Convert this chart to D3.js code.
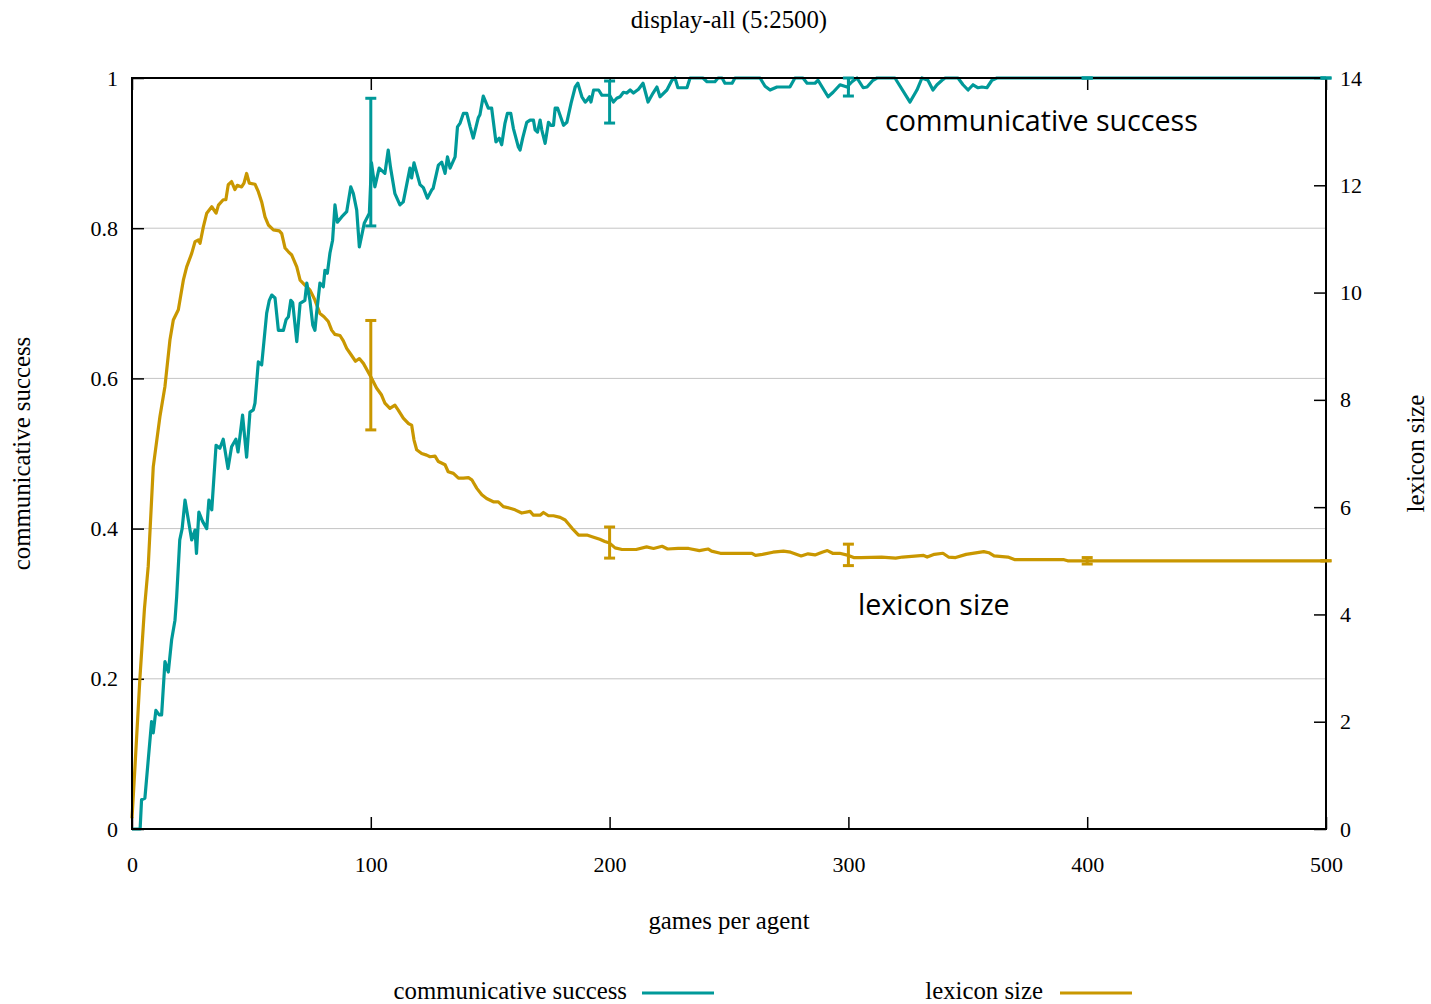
<!DOCTYPE html>
<html>
<head>
<meta charset="utf-8">
<script src="https://cdn.jsdelivr.net/npm/d3@7"></script>
<style>
  html, body { margin: 0; padding: 0; background: #fff; }
  svg { display: block; }
</style>
</head>
<body>
<svg id="chart" width="1431" height="1004"></svg>
<script>
// ---------------- data ----------------
const title = "display-all (5:2500)";
const xTicks = [0, 100, 200, 300, 400, 500];
const leftTicks = [0, 0.2, 0.4, 0.6, 0.8, 1];
const rightTicks = [0, 2, 4, 6, 8, 10, 12, 14];

// communicative success: [games per agent, value]
const csSeries = [
  [0,0],[3.4,0],[4,0.039],[5.4,0.041],[8.2,0.143],[8.9,0.128],[10,0.158],[11.4,0.152],[12.4,0.152],
  [13.8,0.223],[15.2,0.209],[16.6,0.252],[18,0.278],[18.7,0.309],[20,0.385],[21,0.40],[22.2,0.438],
  [25,0.385],[26.4,0.398],[27,0.367],[28,0.422],[29.5,0.41],[31.3,0.40],[32.2,0.438],[33.4,0.425],
  [35.2,0.511],[36.8,0.507],[38.2,0.519],[40.2,0.48],[41.7,0.509],[43.5,0.519],[44.4,0.502],[46.3,0.551],
  [48,0.495],[49.4,0.555],[50.8,0.558],[51.5,0.567],[52.9,0.622],[54.3,0.618],[56.4,0.687],[57.5,0.704],
  [58.5,0.711],[59.9,0.707],[61.3,0.664],[63.4,0.664],[64.5,0.678],[65.5,0.682],[66.5,0.704],[67.3,0.701],
  [69,0.649],[70.4,0.70],[72.4,0.704],[73.2,0.727],[74.5,0.704],[75.7,0.671],[76.6,0.664],[77.3,0.687],
  [78.7,0.727],[80.1,0.722],[80.8,0.744],[81.8,0.740],[82.9,0.767],[84,0.784],[85,0.831],[86,0.808],
  [87.8,0.815],[89.9,0.822],[91.6,0.855],[92.7,0.846],[94.1,0.824],[95.2,0.775],[97.3,0.807],[99.4,0.82],
  [100.3,0.887],[101.7,0.855],[103.5,0.88],[105.9,0.873],[107.3,0.904],[108.3,0.88],[110.1,0.846],
  [112.2,0.831],[113.6,0.835],[116.4,0.88],[117.1,0.867],[118.1,0.887],[120.6,0.858],[122,0.854],
  [123.7,0.840],[125.5,0.851],[126.1,0.853],[128.3,0.884],[129.7,0.888],[131.1,0.873],[132.1,0.895],
  [133.2,0.88],[135.3,0.895],[136.3,0.935],[137.4,0.94],[138.8,0.953],[140.2,0.953],[141.6,0.935],
  [142.9,0.92],[145,0.947],[145.7,0.951],[147.1,0.976],[149.2,0.96],[150.6,0.96],[152.4,0.915],
  [153.8,0.92],[154.8,0.911],[156.2,0.94],[157.2,0.953],[158.6,0.953],[159.7,0.933],[161.8,0.908],
  [162.5,0.904],[163.6,0.92],[165.3,0.941],[166.7,0.944],[168.1,0.944],[168.8,0.931],[169.8,0.928],
  [170.9,0.944],[171.6,0.931],[173,0.913],[174.4,0.941],[175.4,0.937],[176.5,0.937],[177.2,0.96],
  [178.2,0.96],[180.7,0.937],[182.1,0.941],[183.9,0.967],[185.6,0.988],[186.7,0.993],[188.4,0.975],
  [189.8,0.968],[190.7,0.971],[191.6,0.975],[192.2,0.968],[193.3,0.984],[195.4,0.984],[196.8,0.977],
  [200,0.977],[201.6,0.968],[203,0.973],[204.4,0.975],[205.8,0.981],[207.2,0.98],[208.6,0.984],
  [210,0.98],[212.1,0.985],[214,0.993],[216.1,0.968],[218.2,0.980],[219.8,0.988],[221.1,0.975],
  [224,0.984],[226.1,0.997],[227.4,1],[228.6,0.987],[232.4,0.987],[233.7,1],[239.1,1],[240.8,0.995],
  [244.1,0.995],[245.4,1],[247.1,1],[248.3,0.993],[251.3,0.993],[252.5,1],[263,1],[265.1,0.989],
  [267.2,0.984],[270.1,0.988],[275.5,0.988],[277.6,1],[281,1],[282.7,0.993],[286,0.993],[287.3,0.997],
  [289,0.988],[291.5,0.975],[293.6,0.981],[296.5,0.991],[299.4,0.988],[301.5,0.995],[303.6,1],
  [306.2,0.987],[307.8,0.988],[310.3,0.997],[312,1],[319.5,1],[325.8,0.968],[328.7,0.984],[330.8,1],
  [333.3,0.997],[335.4,0.984],[337.1,0.991],[339.2,0.997],[340.5,1],[345.9,1],[348,0.991],[350.1,0.984],
  [352.2,0.991],[354.3,0.987],[355.9,0.988],[358,0.987],[360.1,0.997],[362.2,1],[500,1]
];

// lexicon size: [games per agent, value]
const lexSeries = [
  [0,0.2],[1.3,1.2],[3.3,2.8],[5.2,4.1],[6.8,4.9],[8.9,6.75],[11.7,7.69],[13.8,8.25],[15.9,9.12],
  [17.3,9.49],[19.4,9.68],[21.5,10.23],[22.9,10.48],[25,10.73],[26.4,10.95],[27.8,10.98],[28.5,10.92],
  [29.9,11.23],[31.3,11.48],[33.4,11.60],[35.2,11.48],[36.2,11.63],[38.2,11.73],[39.3,11.73],[40.3,12.01],
  [41.7,12.07],[43.1,11.92],[44.1,12.0],[45.9,11.97],[46.9,12.04],[48,12.22],[49.1,12.04],[51.5,12.02],
  [52.9,11.88],[54.3,11.69],[55.7,11.41],[57.1,11.26],[59.2,11.17],[61.7,11.15],[62.7,11.10],[64.1,10.83],
  [65.5,10.76],[66.9,10.70],[69,10.48],[70.4,10.23],[72.4,10.14],[74.5,10.05],[76.6,9.86],[78.7,9.61],
  [80.4,9.55],[82.2,9.46],[83.6,9.30],[85,9.22],[87.1,9.20],[88.5,9.10],[89.9,8.96],[91.6,8.85],
  [93.6,8.72],[95.2,8.77],[96.9,8.68],[100,8.43],[102.4,8.22],[104.5,8.09],[105.9,7.94],[108,7.84],
  [110.1,7.90],[111.5,7.81],[113.6,7.66],[115.7,7.56],[117.1,7.53],[118.1,7.25],[119.2,7.07],[121.3,7.0],
  [123.4,6.97],[124.8,6.94],[126.9,6.95],[128.3,6.85],[131.1,6.79],[132.4,6.66],[134.6,6.63],[136.7,6.54],
  [138.8,6.54],[140.9,6.55],[142.3,6.51],[144.4,6.35],[146.5,6.23],[148.5,6.16],[151.3,6.10],[153.4,6.10],
  [155.5,6.01],[158.3,5.98],[160.4,5.95],[163.2,5.89],[166.7,5.92],[168.1,5.85],[170.9,5.85],[172.3,5.90],
  [174.4,5.84],[176.5,5.84],[179.3,5.81],[181.4,5.76],[184.2,5.61],[187,5.48],[190.5,5.48],[193.3,5.44],
  [195.9,5.40],[198,5.36],[200,5.33],[202.3,5.24],[205.2,5.21],[211.1,5.21],[215.5,5.26],[218.4,5.23],
  [222,5.27],[224.3,5.22],[228.7,5.23],[233.1,5.23],[237.6,5.19],[241.2,5.22],[242.7,5.18],[246.4,5.14],
  [259.6,5.14],[261.1,5.10],[264,5.12],[268.4,5.16],[272.8,5.18],[275.8,5.16],[280.2,5.09],[283.1,5.13],
  [286,5.11],[289,5.16],[291.2,5.19],[293.4,5.14],[296.3,5.14],[300,5.10],[302.2,5.06],[305.2,5.06],
  [313.9,5.07],[319.8,5.05],[322.7,5.07],[331.5,5.10],[333,5.07],[336,5.12],[339.6,5.14],[341.9,5.07],
  [344.9,5.06],[349.3,5.12],[356.7,5.17],[358.8,5.15],[361,5.09],[366.8,5.07],[369.8,5.02],[377.1,5.02],
  [390.3,5.02],[391.8,5.0],[400,5.0],[500,5.0]
];

// error bars at sampled points
const errGames = [100, 200, 300, 400, 500];
const csMean = [0.888, 0.968, 0.988, 1, 1];
const csErr  = [0.085, 0.028, 0.012, 0, 0];
const lexMean = [8.46, 5.34, 5.11, 5.0, 5.0];
const lexErr  = [1.02, 0.29, 0.20, 0.06, 0];

const seriesNames = ["communicative success", "lexicon size"];
const colors = ["#009999", "#c99700"];

// ---------------- layout ----------------
const margin = { left: 132, right: 105, top: 78, bottom: 175 };
const W = 1431, H = 1004;
const svg = d3.select("#chart");

const x = d3.scaleLinear().domain([0, 500]).range([margin.left, W - margin.right]);
const yL = d3.scaleLinear().domain([0, 1]).range([H - margin.bottom, margin.top]);
const yR = d3.scaleLinear().domain([0, 14]).range([H - margin.bottom, margin.top]);

const serif = "'Liberation Serif', 'Times New Roman', serif";
const sans = "'Open Sans', 'Noto Sans', sans-serif";
const x0 = x.range()[0], x1 = x.range()[1], yb = yL.range()[0], yt = yL.range()[1];
const labelSize = 24.8;

// gridlines
svg.append("g").selectAll("line").data(leftTicks.filter(d => d > 0 && d < 1)).join("line")
  .attr("x1", x0).attr("x2", x1).attr("y1", d => yL(d)).attr("y2", d => yL(d))
  .attr("stroke", "#c4c4c4").attr("stroke-width", 1);

// axes with inward ticks
const tickLen = 12;
const axB = svg.append("g").attr("transform", `translate(0,${yb})`)
  .call(d3.axisBottom(x).tickValues(xTicks).tickSize(-tickLen).tickPadding(27).tickFormat(d3.format("d")));
const axT = svg.append("g").attr("transform", `translate(0,${yt})`)
  .call(d3.axisTop(x).tickValues(xTicks).tickSize(-tickLen).tickFormat(""));
const axL = svg.append("g").attr("transform", `translate(${x0},0)`)
  .call(d3.axisLeft(yL).tickValues(leftTicks).tickSize(-tickLen).tickPadding(14).tickFormat(d => d === 0 ? "0" : d === 1 ? "1" : d3.format(".1f")(d)));
const axR = svg.append("g").attr("transform", `translate(${x1},0)`)
  .call(d3.axisRight(yR).tickValues(rightTicks).tickSize(-tickLen).tickPadding(14).tickFormat(d3.format("d")));
[axB, axT, axL, axR].forEach(a => {
  a.select(".domain").remove();
  a.selectAll(".tick line").attr("stroke", "#000").attr("stroke-width", 1.5);
  a.selectAll(".tick text").attr("font-family", serif).attr("font-size", 22).attr("fill", "#000");
});

// data lines
const lineL = d3.line().x(d => x(d[0])).y(d => yL(d[1]));
const lineR = d3.line().x(d => x(d[0])).y(d => yR(d[1]));
svg.append("path").datum(lexSeries).attr("d", lineR)
  .attr("fill", "none").attr("stroke", colors[1]).attr("stroke-width", 3.2).attr("stroke-linejoin", "round");
svg.append("path").datum(csSeries).attr("d", lineL)
  .attr("fill", "none").attr("stroke", colors[0]).attr("stroke-width", 3.2).attr("stroke-linejoin", "round");

// frame
svg.append("rect").attr("x", x0).attr("y", yt).attr("width", x1 - x0).attr("height", yb - yt)
  .attr("fill", "none").attr("stroke", "#000").attr("stroke-width", 2);

// error bars
function errorBars(means, errs, yScale, color) {
  const g = svg.append("g").attr("stroke", color).attr("stroke-width", 3);
  const capW = 5.5;
  errGames.forEach((gx, i) => {
    const cx = x(gx), lo = yScale(means[i] - errs[i]), hi = yScale(means[i] + errs[i]);
    g.append("line").attr("x1", cx).attr("x2", cx).attr("y1", lo).attr("y2", hi);
    g.append("line").attr("x1", cx - capW).attr("x2", cx + capW).attr("y1", lo).attr("y2", lo);
    g.append("line").attr("x1", cx - capW).attr("x2", cx + capW).attr("y1", hi).attr("y2", hi);
  });
}
errorBars(lexMean, lexErr, yR, colors[1]);
errorBars(csMean, csErr, yL, colors[0]);

// title and axis labels
svg.append("text").attr("x", 729).attr("y", 28).attr("text-anchor", "middle")
  .attr("font-family", serif).attr("font-size", labelSize).text(title);
svg.append("text").attr("x", 729).attr("y", 929).attr("text-anchor", "middle")
  .attr("font-family", serif).attr("font-size", labelSize).text("games per agent");
svg.append("text").attr("transform", `translate(30,${(yt + yb) / 2}) rotate(-90)`).attr("text-anchor", "middle")
  .attr("font-family", serif).attr("font-size", labelSize).text(seriesNames[0]);
svg.append("text").attr("transform", `translate(1424,${(yt + yb) / 2}) rotate(-90)`).attr("text-anchor", "middle")
  .attr("font-family", serif).attr("font-size", labelSize).text(seriesNames[1]);

// in-plot labels
svg.append("text").attr("x", 885).attr("y", 131).attr("font-family", sans).attr("font-size", 28.6)
  .attr("fill", "#000").text(seriesNames[0]);
svg.append("text").attr("x", 858).attr("y", 615).attr("font-family", sans).attr("font-size", 28.6)
  .attr("fill", "#000").text(seriesNames[1]);

// legend
const legend = [
  { name: seriesNames[0], color: colors[0], tx: 627, lx: 642 },
  { name: seriesNames[1], color: colors[1], tx: 1043, lx: 1060 }
];
const lg = svg.append("g");
legend.forEach(l => {
  lg.append("text").attr("x", l.tx).attr("y", 999).attr("text-anchor", "end")
    .attr("font-family", serif).attr("font-size", labelSize).text(l.name);
  lg.append("line").attr("x1", l.lx).attr("x2", l.lx + 72).attr("y1", 993).attr("y2", 993)
    .attr("stroke", l.color).attr("stroke-width", 3);
});
</script>
</body>
</html>
